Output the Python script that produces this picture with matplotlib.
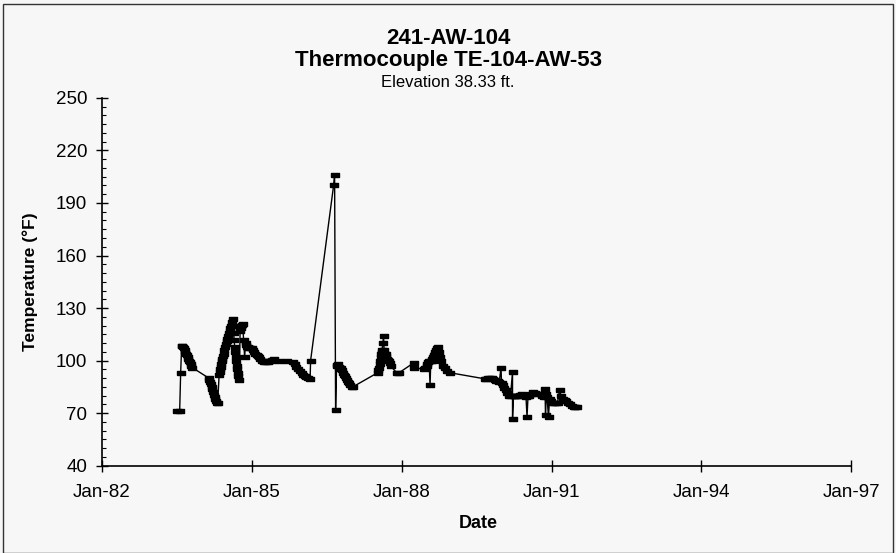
import matplotlib
matplotlib.use("Agg")
import matplotlib.pyplot as plt
from matplotlib.ticker import MultipleLocator, FixedLocator
from matplotlib.patches import Rectangle

plt.rcParams['font.family'] = ['Liberation Sans', 'DejaVu Sans']

# Date as decimal year, temperature in deg F
years = [
    1983.50, 1983.56, 1983.58, 1983.60, 1983.615, 1983.63, 1983.645, 1983.66, 1983.675, 1983.69,
    1983.705, 1983.72, 1983.735, 1983.75, 1983.765, 1983.78, 1983.795, 1983.81,
    1984.14, 1984.155, 1984.17, 1984.185, 1984.20, 1984.215, 1984.23, 1984.245, 1984.26, 1984.275,
    1984.29, 1984.305, 1984.32, 1984.35, 1984.36, 1984.37, 1984.38, 1984.39, 1984.40, 1984.41,
    1984.425, 1984.44, 1984.455, 1984.47, 1984.485, 1984.50, 1984.515, 1984.53, 1984.545, 1984.56,
    1984.575, 1984.59, 1984.605, 1984.62, 1984.63, 1984.64, 1984.65, 1984.66, 1984.67, 1984.68,
    1984.69, 1984.70, 1984.71, 1984.72, 1984.735, 1984.75, 1984.77, 1984.78, 1984.79, 1984.805,
    1984.82, 1984.84, 1984.86, 1984.88, 1984.895, 1984.91, 1984.93, 1984.95, 1984.975, 1985.00,
    1985.025, 1985.05, 1985.075, 1985.10, 1985.125, 1985.15, 1985.175, 1985.20, 1985.225, 1985.25,
    1985.285, 1985.32, 1985.35, 1985.38, 1985.415, 1985.45, 1985.55, 1985.70, 1985.82, 1985.87,
    1985.895, 1985.92, 1985.96, 1986.00, 1986.03, 1986.06, 1986.09, 1986.12, 1986.17, 1986.18,
    1986.64, 1986.66, 1986.68, 1986.70, 1986.715, 1986.73, 1986.745, 1986.76, 1986.775, 1986.79,
    1986.805, 1986.82, 1986.84, 1986.86, 1986.88, 1986.90, 1986.925, 1986.95, 1986.975, 1987.00,
    1987.03, 1987.52, 1987.535, 1987.55, 1987.56, 1987.57, 1987.58, 1987.59, 1987.60, 1987.61,
    1987.625, 1987.64, 1987.65, 1987.66, 1987.67, 1987.68, 1987.695, 1987.71, 1987.725, 1987.74,
    1987.76, 1987.78, 1987.90, 1987.95, 1988.24, 1988.25, 1988.45, 1988.475, 1988.50, 1988.515,
    1988.53, 1988.55, 1988.57, 1988.585, 1988.60, 1988.615, 1988.63, 1988.645, 1988.66, 1988.675,
    1988.69, 1988.705, 1988.72, 1988.74, 1988.76, 1988.79, 1988.82, 1988.86, 1988.90, 1988.97,
    1989.67, 1989.695, 1989.72, 1989.76, 1989.80, 1989.83, 1989.86, 1989.89, 1989.92, 1989.955,
    1989.99, 1990.00, 1990.02, 1990.05, 1990.08, 1990.11, 1990.14, 1990.18, 1990.22, 1990.22,
    1990.24, 1990.26, 1990.295, 1990.33, 1990.365, 1990.40, 1990.445, 1990.49, 1990.51, 1990.53,
    1990.55, 1990.59, 1990.63, 1990.67, 1990.71, 1990.76, 1990.80, 1990.84, 1990.87, 1990.88,
    1990.895, 1990.91, 1990.94, 1990.96, 1990.98, 1991.015, 1991.05, 1991.085, 1991.12, 1991.16,
    1991.19, 1991.22, 1991.26, 1991.30, 1991.34, 1991.38, 1991.415, 1991.45, 1991.48, 1991.51,
]
temps = [
    71, 71, 93, 108.5, 108.5, 108, 107, 106, 105, 104,
    103, 102, 101, 100, 99, 98, 97, 96,
    90, 89, 88, 86.5, 85, 83.5, 82, 80.5, 79, 78,
    77, 76, 75.5, 92, 93.5, 95, 96.5, 98, 99.5, 101,
    102.5, 104, 106, 108, 109.5, 111, 112.5, 114, 115.5, 117,
    118.5, 120, 122, 124, 120, 116, 112, 108, 105, 102,
    99.5, 97, 95, 93, 91, 89, 117, 118.5, 120, 120.5,
    121, 112, 102, 110, 109, 108, 107.5, 107, 107, 107,
    106, 105, 104, 103, 102.5, 102, 101, 100, 99.5, 99,
    99, 99, 99.5, 100, 100.5, 101, 100, 99.5, 99, 98,
    96.5, 95, 94, 93, 92, 91, 90.5, 90, 89.6, 100,
    200, 206, 72, 97, 97.5, 98, 96.5, 95, 95.5, 96,
    94.5, 93, 92, 91, 90, 89, 88, 87, 86, 85,
    85, 93, 94.5, 96, 98, 100, 102, 104, 105, 106,
    110, 114, 106, 103, 103.5, 104, 102.5, 101, 100.5, 100,
    98.5, 97, 93, 93, 98.6, 95.5, 95.3, 96, 97, 98,
    99, 99.5, 86, 99.5, 100, 101, 102, 103, 104, 105,
    106, 107, 108, 105, 102, 99.5, 97, 95.5, 94, 93,
    89.5, 89.5, 90, 90, 90, 89.5, 89, 88.5, 88.5, 88,
    96, 87, 86, 84.5, 83, 81.5, 80, 80, 93.4, 66.8,
    80, 80, 80, 80, 80.5, 81, 80, 79, 67.7, 79.5,
    80, 81, 82, 81.5, 81, 81, 80, 79, 84, 68.6,
    81, 79, 67.7, 78, 77, 76, 75.5, 75.5, 76, 83,
    80, 78, 77.5, 77, 76, 75, 74, 73.5, 73.5, 73.4,
]

x_ticks = [1982, 1985, 1988, 1991, 1994, 1997]
x_tick_labels = ["Jan-82", "Jan-85", "Jan-88", "Jan-91", "Jan-94", "Jan-97"]
y_ticks = [40, 70, 100, 130, 160, 190, 220, 250]

bg = "#f7f7f7"
fig = plt.figure(figsize=(8.96, 5.53), dpi=100, facecolor=bg)
ax = fig.add_axes([0.1135, 0.1582, 0.9502 - 0.1135, 0.8228 - 0.1582])
ax.set_facecolor(bg)

rect_marker = [(-1.75, -1), (1.75, -1), (1.75, 1), (-1.75, 1), (-1.75, -1)]
ax.plot(years, temps, color="black", lw=1.0, marker=rect_marker, markersize=5.5,
        markerfacecolor="black", markeredgecolor="black", markeredgewidth=1.0)

ax.set_xlim(1982, 1997)
ax.set_ylim(40, 250)
ax.xaxis.set_major_locator(FixedLocator(x_ticks))
ax.set_xticklabels(x_tick_labels)
ax.yaxis.set_major_locator(FixedLocator(y_ticks))
ax.yaxis.set_minor_locator(MultipleLocator(5))

for s in ["top", "right"]:
    ax.spines[s].set_visible(False)
for s in ["left", "bottom"]:
    ax.spines[s].set_linewidth(1.2)
    ax.spines[s].set_color("black")

ax.tick_params(axis="x", which="major", direction="inout", length=9, width=1.0,
               labelsize=13.5, pad=9)
ax.tick_params(axis="y", which="major", direction="inout", length=9, width=1.0,
               labelsize=13.5, pad=6)
ax.tick_params(axis="y", which="minor", direction="in", length=3, width=0.8)

fig.text(0.5, 0.9295, "241-AW-104", ha="center", va="center",
         fontsize=16, fontweight="bold")
fig.text(0.5, 0.8897, "Thermocouple TE-104-AW-53", ha="center", va="center",
         fontsize=16, fontweight="bold")
fig.text(0.5, 0.8517, "Elevation 38.33 ft.", ha="center", va="center",
         fontsize=12)
fig.text(0.5335, 0.054, "Date", ha="center", va="center",
         fontsize=13, fontweight="bold")
fig.text(0.0335, 0.49, "Temperature (\u00b0F)", ha="center", va="center",
         rotation=90, fontsize=12.5, fontweight="bold")

fig.patches.append(Rectangle((0.003, 0.0), 0.994, 0.993, transform=fig.transFigure,
                             fill=False, edgecolor="#333333", lw=1.0))

fig.savefig("out.png", dpi=100, facecolor=bg)
